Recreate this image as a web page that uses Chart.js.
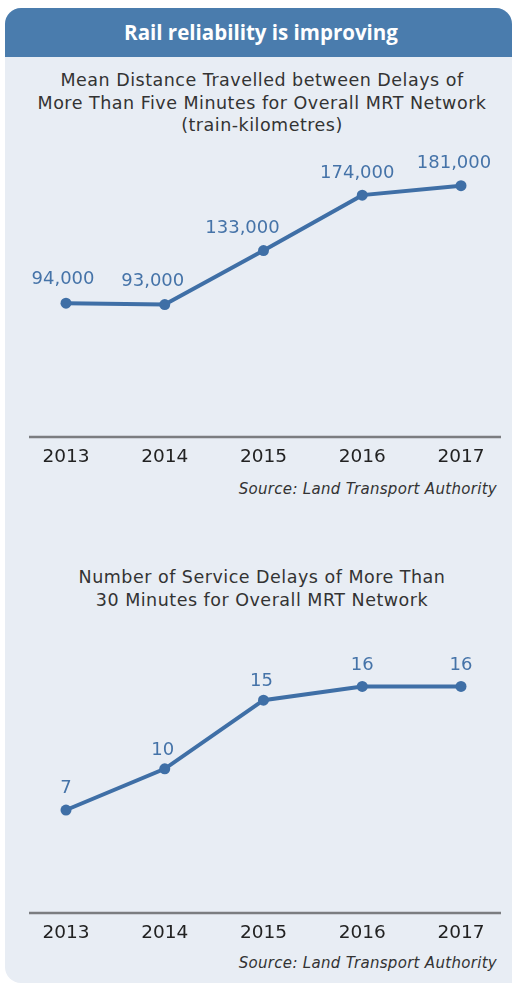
<!DOCTYPE html>
<html>
<head>
<meta charset="utf-8">
<script src="https://cdn.jsdelivr.net/npm/chart.js@4"></script>
<style>
  html, body { margin: 0; padding: 0; background: #ffffff; }
  body { width: 512px; height: 986px; position: relative; overflow: hidden; font-family: "DejaVu Sans", sans-serif; }
  #panel { position: absolute; left: 5px; top: 8px; width: 507px; height: 975px; background: #e8edf4; border-radius: 16px 16px 0 16px; overflow: hidden; }
  #header { position: absolute; left: 0; top: 0; width: 100%; height: 49px; background: #4a7cad; color: #fff; font-family: "Open Sans", sans-serif; font-weight: 700; font-size: 20.5px; text-align: center; line-height: 49px; box-sizing: border-box; padding-left: 5px; }
  .ctitle { position: absolute; left: 6px; width: 512px; text-align: center; color: #333; font-size: 17.5px; letter-spacing: 0.5px; line-height: 22.5px; }
  .src { position: absolute; right: 15px; font-style: italic; color: #333; font-size: 15px; letter-spacing: 0.3px; }
  canvas { position: absolute; left: 0; }
</style>
</head>
<body>
<div id="panel"><div id="header">Rail reliability is improving</div></div>
<div class="ctitle" style="top:69px">Mean Distance Travelled between Delays of<br>More Than Five Minutes for Overall MRT Network<br>(train-kilometres)</div>
<div class="src" style="top:480px">Source: Land Transport Authority</div>
<div class="ctitle" style="top:566px">Number of Service Delays of More Than<br>30 Minutes for Overall MRT Network</div>
<div class="src" style="top:954px">Source: Land Transport Authority</div>
<div style="position:absolute;left:0;top:140px;width:512px;height:339px"><canvas id="c1" width="512" height="339"></canvas></div>
<div style="position:absolute;left:0;top:620px;width:512px;height:340px"><canvas id="c2" width="512" height="340"></canvas></div>
<script>
const years = ["2013", "2014", "2015", "2016", "2017"];
const distanceKm = [94000, 93000, 133000, 174000, 181000];
const delays30 = [7, 10, 15, 16, 16];

const LINE = "#3f6fa6";
const LABEL = "#4573a8";
const FONT = "'DejaVu Sans', sans-serif";

const labelPlugin = {
  id: "valueLabels",
  afterDatasetsDraw(chart, args, opts) {
    const ctx = chart.ctx;
    const meta = chart.getDatasetMeta(0);
    const data = chart.data.datasets[0].data;
    ctx.save();
    ctx.font = "18px " + FONT;
    ctx.fillStyle = LABEL;
    ctx.textAlign = "center";
    ctx.textBaseline = "middle";
    meta.data.forEach((pt, i) => {
      const dx = (opts.dx && opts.dx[i]) || 0;
      const dy = (opts.dy && opts.dy[i]) || -22;
      ctx.fillText(data[i].toLocaleString("en-US"), pt.x + dx, pt.y + dy);
    });
    ctx.restore();
  }
};

const axisLinePlugin = {
  id: "axisLine",
  beforeDatasetsDraw(chart) {
    const ctx = chart.ctx;
    const x = chart.scales.x;
    const y = chart.chartArea.bottom;
    ctx.save();
    ctx.strokeStyle = "#7b7d80";
    ctx.lineWidth = 2.5;
    ctx.beginPath();
    ctx.moveTo(x.getPixelForValue(0) - 37, y);
    ctx.lineTo(x.getPixelForValue(years.length - 1) + 40, y);
    ctx.stroke();
    ctx.restore();
  }
};

function makeChart(id, values, yMin, yMax, pad, dx, dy) {
  return new Chart(document.getElementById(id), {
    type: "line",
    data: {
      labels: years,
      datasets: [{
        data: values,
        borderColor: LINE,
        backgroundColor: LINE,
        borderWidth: 4,
        pointRadius: 5.5,
        pointBackgroundColor: LINE,
        pointBorderWidth: 0,
        tension: 0,
        clip: false
      }]
    },
    options: {
      responsive: false,
      animation: false,
      devicePixelRatio: 1,
      layout: { padding: pad },
      plugins: {
        legend: { display: false },
        tooltip: { enabled: false },
        title: { display: false },
        valueLabels: { dx: dx, dy: dy }
      },
      scales: {
        x: {
          offset: false,
          grid: { display: false, drawTicks: false },
          border: { display: false },
          ticks: { color: "#222", font: { family: FONT, size: 18.5 }, padding: 9, maxRotation: 0, autoSkip: false }
        },
        y: { display: false, min: yMin, max: yMax }
      }
    },
    plugins: [axisLinePlugin, labelPlugin]
  });
}

makeChart("c1", distanceKm, -5000, 200000, { left: 66, right: 51, top: 20, bottom: 1.8 },
  [-3, -12, -21, -5, -7], [-24, -23, -22, -22, -22]);
makeChart("c2", delays30, -0.5, 18, { left: 66, right: 51, top: 39, bottom: 6.8 },
  [0, -2, -2, 0, 0], [-22, -19, -19, -21, -21]);
</script>
</body>
</html>
